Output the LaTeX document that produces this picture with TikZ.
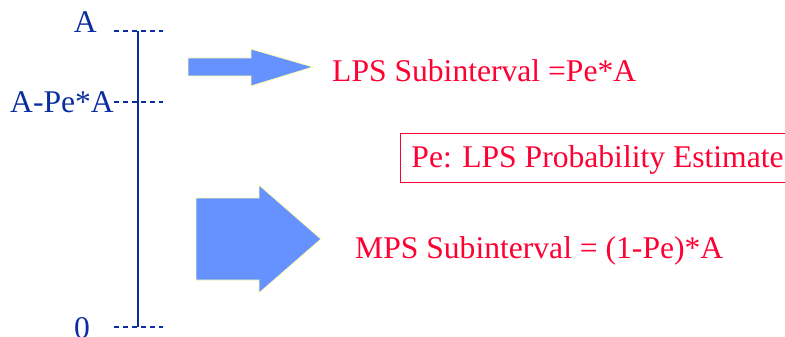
\documentclass[tikz,border=0pt]{standalone}
\usepackage{fontspec}
\setmainfont{Liberation Serif}
\definecolor{navy}{RGB}{10,45,160}
\definecolor{lred}{RGB}{255,0,51}
\definecolor{afill}{RGB}{102,146,255}
\definecolor{aedge}{RGB}{255,255,170}
\begin{document}
\begin{tikzpicture}[x=1pt,y=-1pt,
  lbl/.style={text=navy,font=\fontsize{31.6}{36}\selectfont,inner sep=0pt,anchor=base east},
  rtxt/.style={text=lred,font=\fontsize{31.6}{36}\selectfont,inner sep=0pt,anchor=base west},
  tick/.style={navy,line width=1.1pt,dash pattern=on 5pt off 4pt},
  axis/.style={navy,line width=1.3pt},
  bigarrow/.style={fill=afill,draw=aedge,line width=0.8pt,line join=miter}]
\useasboundingbox (0,0) rectangle (785,337);
% axis
\coordinate (top) at (138,31);
\coordinate (mid) at (138,102);
\coordinate (bot) at (138,327);
\draw[axis] (top) -- (bot);
\draw[tick] (114,31) -- (163,31);
\draw[tick] (114,102) -- (163,102);
\draw[tick] (114,327) -- (163,327);
% labels
\node[lbl] (lA) at (97,33) {A};
\node[lbl] (lApeA) at (114,113) {A-Pe*A};
\node[lbl] (l0) at (90,338.6) {0};
% arrows
\draw[bigarrow] (188,58) -- (251,58) -- (251,49) -- (313,67) -- (251,86) -- (251,76) -- (188,76) -- cycle;
\draw[bigarrow] (196,198) -- (259,198) -- (259,185) -- (321,239) -- (259,293) -- (259,280) -- (196,280) -- cycle;
% texts
\node[rtxt] (lps) at (332,81.7) {LPS Subinterval =Pe*A};
\node[rtxt] (mps) at (355,258) {MPS Subinterval = (1-Pe)*A};
\node[rtxt,draw=lred,line width=0.9pt,inner xsep=11pt,inner ysep=0pt,text height=34pt,text depth=15pt] (pe) at (400,167) {Pe: LPS Probability Estimate};
\end{tikzpicture}
\end{document}
